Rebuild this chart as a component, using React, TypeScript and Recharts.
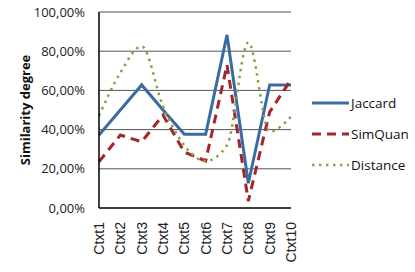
import React from 'react';
import { LineChart, Line, XAxis, YAxis, ReferenceLine, Legend } from 'recharts';

const contexts = ['Ctxt1', 'Ctxt2', 'Ctxt3', 'Ctxt4', 'Ctxt5', 'Ctxt6', 'Ctxt7', 'Ctxt8', 'Ctxt9', 'Ctxt10'];
const jaccard = [37.2, 50, 62.8, 50, 37.6, 37.6, 88.3, 12.6, 62.8, 62.8];
const simQuan = [23.6, 37.2, 33.8, 47.4, 28.5, 24, 73, 3.5, 49, 65.5];
const distance = [47, 69, 82.5, 52, 32, 24, 32, 84.5, 39, 46.6];
const yTicks = [0, 20, 40, 60, 80, 100];

const data = contexts.map((name, i) => ({
  name,
  Jaccard: jaccard[i],
  SimQuan: simQuan[i],
  Distance: distance[i],
}));

const series = [
  { key: 'Jaccard', color: '#3a6ca4', width: 3, dash: undefined as string | undefined, type: 'linear' as const },
  { key: 'SimQuan', color: '#a3262a', width: 3, dash: '9 6', type: 'linear' as const },
  { key: 'Distance', color: '#8b9e4c', width: 2.5, dash: '2.5 4.5', type: 'monotone' as const },
];

const fmt = (v: number) => v.toFixed(2).replace('.', ',') + '%';

const XTick = (props: any) => {
  const { x, y, payload } = props;
  return (
    <text
      x={0}
      y={0}
      transform={`translate(${x + 5},${y + 14}) rotate(-90)`}
      textAnchor="end"
      fontSize={14}
      fontFamily="'Liberation Sans', Arial, sans-serif"
      fill="#222"
    >
      {payload.value}
    </text>
  );
};

const LegendBox = () => (
  <svg width={100} height={80}>
    {series.map((s, i) => {
      const y = 8 + i * 31;
      return (
        <g key={s.key}>
          <line
            x1={1}
            x2={38}
            y1={y}
            y2={y}
            stroke={s.color}
            strokeWidth={s.width}
            strokeDasharray={s.dash}
          />
          <text x={40} y={y + 5} fontSize={13.5} fontFamily="'Open Sans', sans-serif" fill="#111">
            {s.key}
          </text>
        </g>
      );
    })}
  </svg>
);

export default function App() {
  return (
    <div style={{ position: 'absolute', left: 0, top: 0, width: 415, height: 272, background: '#fff' }}>
      <LineChart width={415} height={272} data={data} margin={{ top: 12, right: 124, bottom: 0, left: 0 }}>
        {yTicks.slice(1).map((t) => (
          <ReferenceLine key={t} y={t} stroke="#555" strokeWidth={1} />
        ))}
        <XAxis
          dataKey="name"
          height={64}
          tickSize={0}
          tickMargin={0}
          tick={<XTick />}
          interval={0}
          axisLine={{ stroke: '#000', strokeWidth: 1.5 }}
        />
        <YAxis
          width={99}
          domain={[0, 100]}
          ticks={yTicks}
          tickFormatter={fmt}
          tickLine={false}
          tickSize={0}
          tickMargin={14}
          axisLine={{ stroke: '#000', strokeWidth: 1.5 }}
          tick={{ fontSize: 13, fontFamily: "'Open Sans', sans-serif", fill: '#222' }}
          label={{
            value: 'Similarity degree',
            angle: -90,
            position: 'insideLeft',
            offset: 25,
            style: { textAnchor: 'middle', fontSize: 13, fontWeight: 'bold', fontFamily: "'Open Sans', sans-serif", fill: '#111' },
          }}
        />
        <Legend
          layout="vertical"
          align="center"
          verticalAlign="middle"
          content={<LegendBox />}
          wrapperStyle={{ left: 311, top: 95, width: 100, height: 80 }}
        />
        {series.map((s) => (
          <Line
            key={s.key}
            dataKey={s.key}
            type={s.type}
            stroke={s.color}
            strokeWidth={s.width}
            strokeDasharray={s.dash}
            dot={false}
            activeDot={false}
            isAnimationActive={false}
          />
        ))}
      </LineChart>
    </div>
  );
}
